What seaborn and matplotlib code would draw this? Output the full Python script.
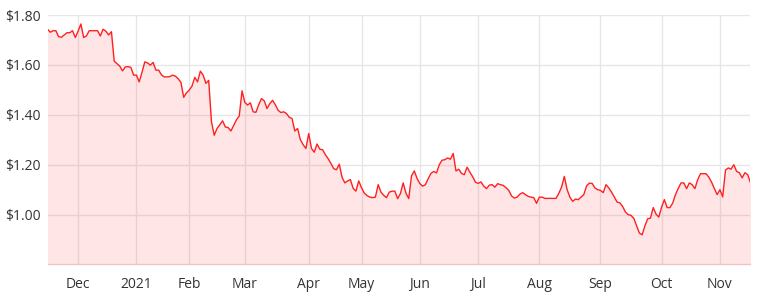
import numpy as np
import pandas as pd
import matplotlib
matplotlib.use("Agg")
import matplotlib.pyplot as plt
import seaborn as sns

# ---- data ----
holidays = ["2020-12-25", "2020-12-28", "2021-01-01", "2021-01-26",
            "2021-04-02", "2021-04-05", "2021-04-26", "2021-06-14"]
start_date = "2020-11-16"
end_date = "2021-11-16"

prices = [
    1.743, 1.731, 1.737, 1.737, 1.713, 1.711, 1.720, 1.729, 1.729, 1.737,
    1.710, 1.735, 1.764, 1.710, 1.716, 1.737, 1.737, 1.737, 1.737, 1.716,
    1.743, 1.735, 1.720, 1.733, 1.615, 1.605, 1.595, 1.576, 1.592, 1.593,
    1.590, 1.559, 1.559, 1.532, 1.570, 1.612, 1.608, 1.599, 1.610, 1.579,
    1.579, 1.560, 1.552, 1.552, 1.553, 1.559, 1.555, 1.545, 1.530, 1.470,
    1.488, 1.499, 1.515, 1.550, 1.532, 1.575, 1.559, 1.526, 1.538, 1.372,
    1.318, 1.345, 1.360, 1.376, 1.351, 1.349, 1.335, 1.358, 1.380, 1.395,
    1.496, 1.450, 1.439, 1.448, 1.412, 1.410, 1.440, 1.465, 1.456, 1.425,
    1.445, 1.458, 1.440, 1.418, 1.409, 1.412, 1.405, 1.390, 1.385, 1.335,
    1.345, 1.300, 1.280, 1.265, 1.325, 1.265, 1.250, 1.283, 1.262, 1.260,
    1.240, 1.224, 1.205, 1.184, 1.180, 1.202, 1.150, 1.127, 1.135, 1.140,
    1.105, 1.094, 1.135, 1.108, 1.086, 1.076, 1.070, 1.068, 1.070, 1.120,
    1.090, 1.077, 1.068, 1.090, 1.094, 1.094, 1.064, 1.084, 1.127, 1.086,
    1.064, 1.155, 1.175, 1.145, 1.124, 1.114, 1.120, 1.144, 1.165, 1.173,
    1.167, 1.200, 1.218, 1.220, 1.227, 1.222, 1.245, 1.175, 1.182, 1.165,
    1.160, 1.190, 1.170, 1.152, 1.130, 1.125, 1.131, 1.114, 1.104, 1.118,
    1.120, 1.110, 1.124, 1.120, 1.117, 1.108, 1.097, 1.075, 1.066, 1.070,
    1.082, 1.088, 1.080, 1.073, 1.070, 1.068, 1.045, 1.070, 1.070, 1.065,
    1.065, 1.065, 1.065, 1.065, 1.085, 1.110, 1.153, 1.100, 1.070, 1.053,
    1.062, 1.060, 1.070, 1.080, 1.115, 1.126, 1.125, 1.107, 1.100, 1.097,
    1.088, 1.120, 1.107, 1.090, 1.070, 1.050, 1.047, 1.032, 1.010, 1.000,
    0.997, 0.985, 0.955, 0.926, 0.919, 0.955, 0.983, 0.986, 1.028, 1.002,
    0.990, 1.030, 1.060, 1.028, 1.028, 1.046, 1.080, 1.105, 1.127, 1.127,
    1.104, 1.127, 1.120, 1.104, 1.140, 1.164, 1.164, 1.164, 1.150, 1.130,
    1.104, 1.080, 1.100, 1.071, 1.178, 1.187, 1.182, 1.200, 1.173, 1.168,
    1.147, 1.168, 1.160, 1.128,
]

month_labels = ["Dec", "2021", "Feb", "Mar", "Apr", "May", "Jun",
                "Jul", "Aug", "Sep", "Oct", "Nov"]
y_ticks = [1.00, 1.20, 1.40, 1.60, 1.80]
y_tick_labels = ["$1.00", "$1.20", "$1.40", "$1.60", "$1.80"]

# ---- build table ----
dates = pd.bdate_range(start_date, end_date, freq="C", holidays=holidays)
n = min(len(dates), len(prices))
df = pd.DataFrame({"pos": np.arange(n), "price": prices[:n], "date": dates[:n]})
firsts = df.groupby(df["date"].dt.to_period("M"))["pos"].min().values
month_pos = list(firsts[1:1 + len(month_labels)])

# ---- style ----
sns.set_style("white")
plt.rcParams["font.family"] = ["Open Sans", "DejaVu Sans"]

fig = plt.figure(figsize=(7.58, 2.92), dpi=100)
ax = fig.add_axes([0.0627, 0.0942, 0.9274, 0.8544])

ax.grid(True, color="#e6e6e6", lw=1.0)
ax.set_axisbelow(True)

sns.lineplot(data=df, x="pos", y="price", ax=ax, color="#ff2020", lw=1.0)
ax.fill_between(df["pos"], df["price"], 0.8, color="#ff3030", alpha=0.12, lw=0)

ax.set_xlim(0, n - 1)
ax.set_ylim(0.8, 1.8)
ax.set_yticks(y_ticks)
ax.set_yticklabels(y_tick_labels)
ax.set_xticks(month_pos)
ax.set_xticklabels(month_labels)
ax.set_xlabel("")
ax.set_ylabel("")

for s in ["left", "right", "top"]:
    ax.spines[s].set_visible(False)
ax.spines["bottom"].set_color("#f0c4c4")
ax.spines["bottom"].set_linewidth(1.0)

ax.tick_params(axis="both", length=0, labelsize=10, colors="#333333")
ax.tick_params(axis="y", pad=5)
ax.tick_params(axis="x", pad=9)

fig.savefig("out.png", dpi=100)
